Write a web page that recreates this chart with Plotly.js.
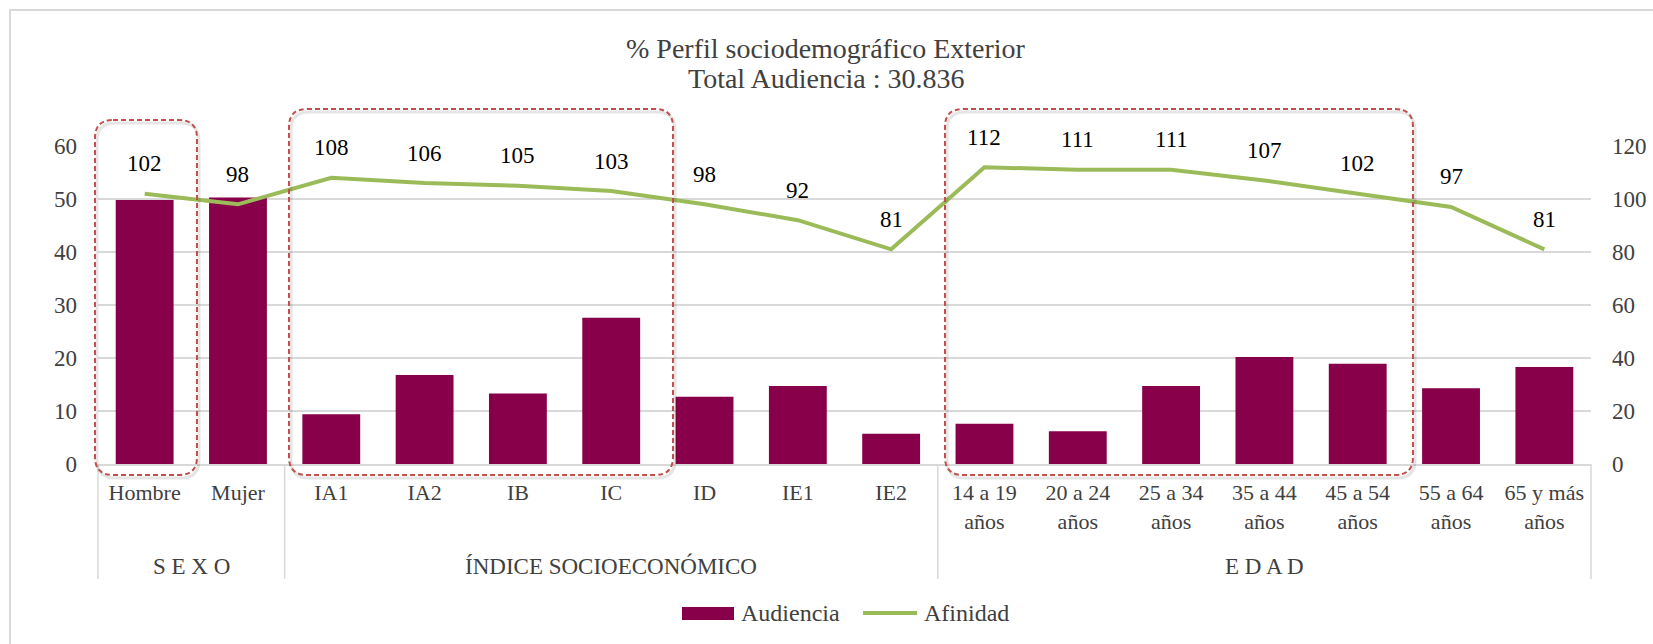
<!DOCTYPE html>
<html>
<head>
<meta charset="utf-8">
<script src="https://cdn.plot.ly/plotly-3.0.1.min.js"></script>
<style>
  html, body { margin: 0; padding: 0; background: #ffffff; }
  #chart { width: 1653px; height: 644px; }
</style>
</head>
<body>
<div id="chart"></div>
<script>
// ---------- DATA ----------
const categories = ['Hombre', 'Mujer', 'IA1', 'IA2', 'IB', 'IC', 'ID', 'IE1', 'IE2',
  '14 a 19<br>años', '20 a 24<br>años', '25 a 34<br>años', '35 a 44<br>años',
  '45 a 54<br>años', '55 a 64<br>años', '65 y más<br>años'];
const groupNames = ['S E X O', 'ÍNDICE SOCIOECONÓMICO', 'E D A D'];
const groupSizes = [2, 7, 7];
const audiencia = [49.8, 50.3, 9.4, 16.8, 13.3, 27.6, 12.7, 14.7, 5.7, 7.6, 6.2, 14.7, 20.2, 18.9, 14.3, 18.3];
const afinidad = [102, 98, 108, 106, 105, 103, 98, 92, 81, 112, 111, 111, 107, 102, 97, 81];
const seriesNames = ['Audiencia', 'Afinidad'];
const titleLines = ['% Perfil sociodemográfico Exterior', 'Total Audiencia : 30.836'];

// ---------- STYLE / GEOMETRY ----------
const W = 1653, H = 644;
const PL = 98, PR = 1591, PT = 146, PB = 464;   // plot area in pixels
const FONT = 'Liberation Serif';
const BAR = '#870049', LINE = '#9BBB59', GRID = '#d9d9d9', TXT = '#404040';
const px = x => (x - PL) / (PR - PL);
const py = y => (PB - y) / (PB - PT);

function roundRect(x0, y0, x1, y1, r) {
  const P = (x, y) => px(x) + ',' + py(y);
  return 'M' + P(x0 + r, y0) + ' L' + P(x1 - r, y0) + ' Q' + P(x1, y0) + ' ' + P(x1, y0 + r) +
    ' L' + P(x1, y1 - r) + ' Q' + P(x1, y1) + ' ' + P(x1 - r, y1) +
    ' L' + P(x0 + r, y1) + ' Q' + P(x0, y1) + ' ' + P(x0, y1 - r) +
    ' L' + P(x0, y0 + r) + ' Q' + P(x0, y0) + ' ' + P(x0 + r, y0) + ' Z';
}

const traces = [
  {
    type: 'bar', name: seriesNames[0], x: categories, y: audiencia,
    marker: { color: BAR }, width: 0.62, yaxis: 'y', showlegend: false,
    hoverinfo: 'x+y'
  },
  {
    type: 'scatter', mode: 'lines', name: seriesNames[1], x: categories, y: afinidad,
    line: { color: LINE, width: 4 }, yaxis: 'y2', showlegend: false
  }
];

const shapes = [];
const annotations = [];

// Outer chart frame
shapes.push({ type: 'path', xref: 'paper', yref: 'paper',
  path: 'M' + px(10) + ',' + py(700) + ' L' + px(10) + ',' + py(10) + ' L' + px(1700) + ',' + py(10),
  line: { color: GRID, width: 2 }, layer: 'below' });

// Group dividers and group labels
const slot = (PR - PL) / categories.length;
let start = 0;
const bounds = [0];
groupSizes.forEach((n, gi) => {
  const cx = PL + (start + n / 2) * slot;
  annotations.push({ xref: 'paper', yref: 'paper', x: px(cx), y: py(566), text: groupNames[gi],
    showarrow: false, xanchor: 'center', yanchor: 'middle', font: { family: FONT, size: 23, color: TXT } });
  start += n;
  bounds.push(start);
});
bounds.forEach(b => {
  const x = PL + b * slot;
  shapes.push({ type: 'line', xref: 'paper', yref: 'paper', x0: px(x), x1: px(x), y0: 0, y1: py(579),
    line: { color: GRID, width: 1.5 } });
});

// Dashed highlight boxes (with faint shadow)
const boxes = [[95, 120, 197, 475], [289, 109, 673, 475], [945, 109, 1413, 475]];
boxes.forEach(b => {
  shapes.push({ type: 'path', xref: 'paper', yref: 'paper', path: roundRect(b[0] + 2, b[1] + 3, b[2] + 2, b[3] + 3, 18),
    line: { color: 'rgba(0,0,0,0.10)', width: 3 } });
  shapes.push({ type: 'path', xref: 'paper', yref: 'paper', path: roundRect(b[0], b[1], b[2], b[3], 18),
    line: { color: '#C0504D', width: 2, dash: '5px,3px' } });
});

// Data labels for Afinidad
categories.forEach((c, i) => {
  annotations.push({ x: c, y: afinidad[i], xref: 'x', yref: 'y2', text: String(afinidad[i]),
    showarrow: false, yshift: 30, xanchor: 'center', yanchor: 'middle',
    font: { family: FONT, size: 23, color: '#000000' } });
});

// Title (two lines)
annotations.push({ xref: 'paper', yref: 'paper', x: px(826), y: py(48), text: titleLines[0], showarrow: false,
  xanchor: 'center', yanchor: 'middle', font: { family: FONT, size: 28, color: TXT } });
annotations.push({ xref: 'paper', yref: 'paper', x: px(826), y: py(78), text: titleLines[1], showarrow: false,
  xanchor: 'center', yanchor: 'middle', font: { family: FONT, size: 28, color: TXT } });

// Custom legend
shapes.push({ type: 'rect', xref: 'paper', yref: 'paper', x0: px(682), x1: px(734), y0: py(620), y1: py(607),
  fillcolor: BAR, line: { width: 0 } });
annotations.push({ xref: 'paper', yref: 'paper', x: px(739), y: py(613), text: seriesNames[0], showarrow: false,
  xanchor: 'left', yanchor: 'middle', font: { family: FONT, size: 24, color: TXT } });
shapes.push({ type: 'line', xref: 'paper', yref: 'paper', x0: px(863), x1: px(917), y0: py(613), y1: py(613),
  line: { color: LINE, width: 4 } });
annotations.push({ xref: 'paper', yref: 'paper', x: px(922), y: py(613), text: seriesNames[1], showarrow: false,
  xanchor: 'left', yanchor: 'middle', font: { family: FONT, size: 24, color: TXT } });

const layout = {
  width: W, height: H,
  margin: { l: PL, r: W - PR, t: PT, b: H - PB, pad: 0 },
  paper_bgcolor: '#ffffff', plot_bgcolor: '#ffffff',
  showlegend: false,
  font: { family: FONT, color: TXT, size: 22 },
  bargap: 0.38,
  xaxis: {
    type: 'category', tickangle: 0, showgrid: false, zeroline: false,
    showline: true, linecolor: GRID, linewidth: 2,
    ticks: '', ticklabelstandoff: 8,
    tickfont: { family: FONT, size: 22, color: TXT }
  },
  yaxis: {
    range: [0, 60], dtick: 10, showgrid: true, gridcolor: GRID, gridwidth: 1.5,
    zeroline: false, showline: false, ticks: '', ticklabelstandoff: 20,
    tickfont: { family: FONT, size: 23, color: TXT }
  },
  yaxis2: {
    range: [0, 120], dtick: 20, overlaying: 'y', side: 'right', showgrid: false,
    zeroline: false, showline: false, ticks: '', ticklabelstandoff: 20,
    tickfont: { family: FONT, size: 23, color: TXT }
  },
  shapes: shapes,
  annotations: annotations
};

Plotly.newPlot('chart', traces, layout, { displayModeBar: false, staticPlot: true });
</script>
</body>
</html>
